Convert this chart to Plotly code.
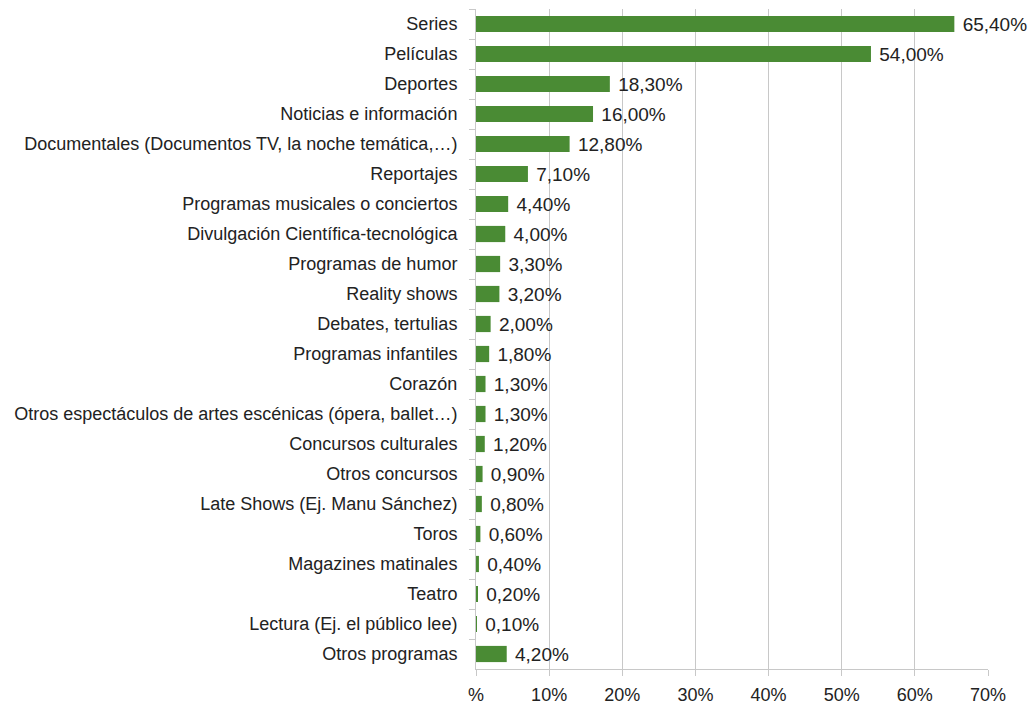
import plotly.graph_objects as go

categories = [
    "Series", "Películas", "Deportes", "Noticias e información",
    "Documentales (Documentos TV, la noche temática,…)", "Reportajes",
    "Programas musicales o conciertos", "Divulgación Científica-tecnológica",
    "Programas de humor", "Reality shows", "Debates, tertulias",
    "Programas infantiles", "Corazón",
    "Otros espectáculos de artes escénicas (ópera, ballet…)",
    "Concursos culturales", "Otros concursos", "Late Shows (Ej. Manu Sánchez)",
    "Toros", "Magazines matinales", "Teatro", "Lectura (Ej. el público lee)",
    "Otros programas",
]
values = [65.4, 54.0, 18.3, 16.0, 12.8, 7.1, 4.4, 4.0, 3.3, 3.2, 2.0, 1.8, 1.3,
          1.3, 1.2, 0.9, 0.8, 0.6, 0.4, 0.2, 0.1, 4.2]
tick_vals = [0, 10, 20, 30, 40, 50, 60, 70]
tick_text = ["%", "10%", "20%", "30%", "40%", "50%", "60%", "70%"]

labels = [" " + f"{v:.2f}".replace(".", ",") + "%" for v in values]

fig = go.Figure(go.Bar(
    x=values, y=categories, orientation="h",
    marker=dict(color="#4a8b34", line=dict(width=0)),
    text=labels, textposition="outside", cliponaxis=False,
    constraintext="none",
    textfont=dict(size=19, color="#222222"),
))

fig.update_layout(
    width=1035, height=707,
    margin=dict(l=476, r=47, t=9, b=38, autoexpand=False),
    paper_bgcolor="white", plot_bgcolor="white",
    font=dict(family="Liberation Sans, Arial, sans-serif", size=18, color="#222222"),
    bargap=0.46, showlegend=False,
)
fig.update_xaxes(
    range=[0, 70], tickvals=tick_vals, ticktext=tick_text,
    showgrid=True, gridcolor="#c8c8c8", gridwidth=1,
    showline=True, linecolor="#c8c8c8", linewidth=1,
    ticks="outside", ticklen=6, tickcolor="#c8c8c8",
    zeroline=False, tickfont=dict(size=18), ticklabelstandoff=3,
)
fig.update_yaxes(
    autorange="reversed", type="category",
    showline=True, linecolor="#c8c8c8", linewidth=1,
    ticks="outside", ticklen=6, tickcolor="#c8c8c8", tickson="boundaries",
    showgrid=False, tickfont=dict(size=18), ticklabelstandoff=14,
)

fig.write_html("out.html", config={"displayModeBar": False},
               post_script="document.body.style.margin='0px';")
